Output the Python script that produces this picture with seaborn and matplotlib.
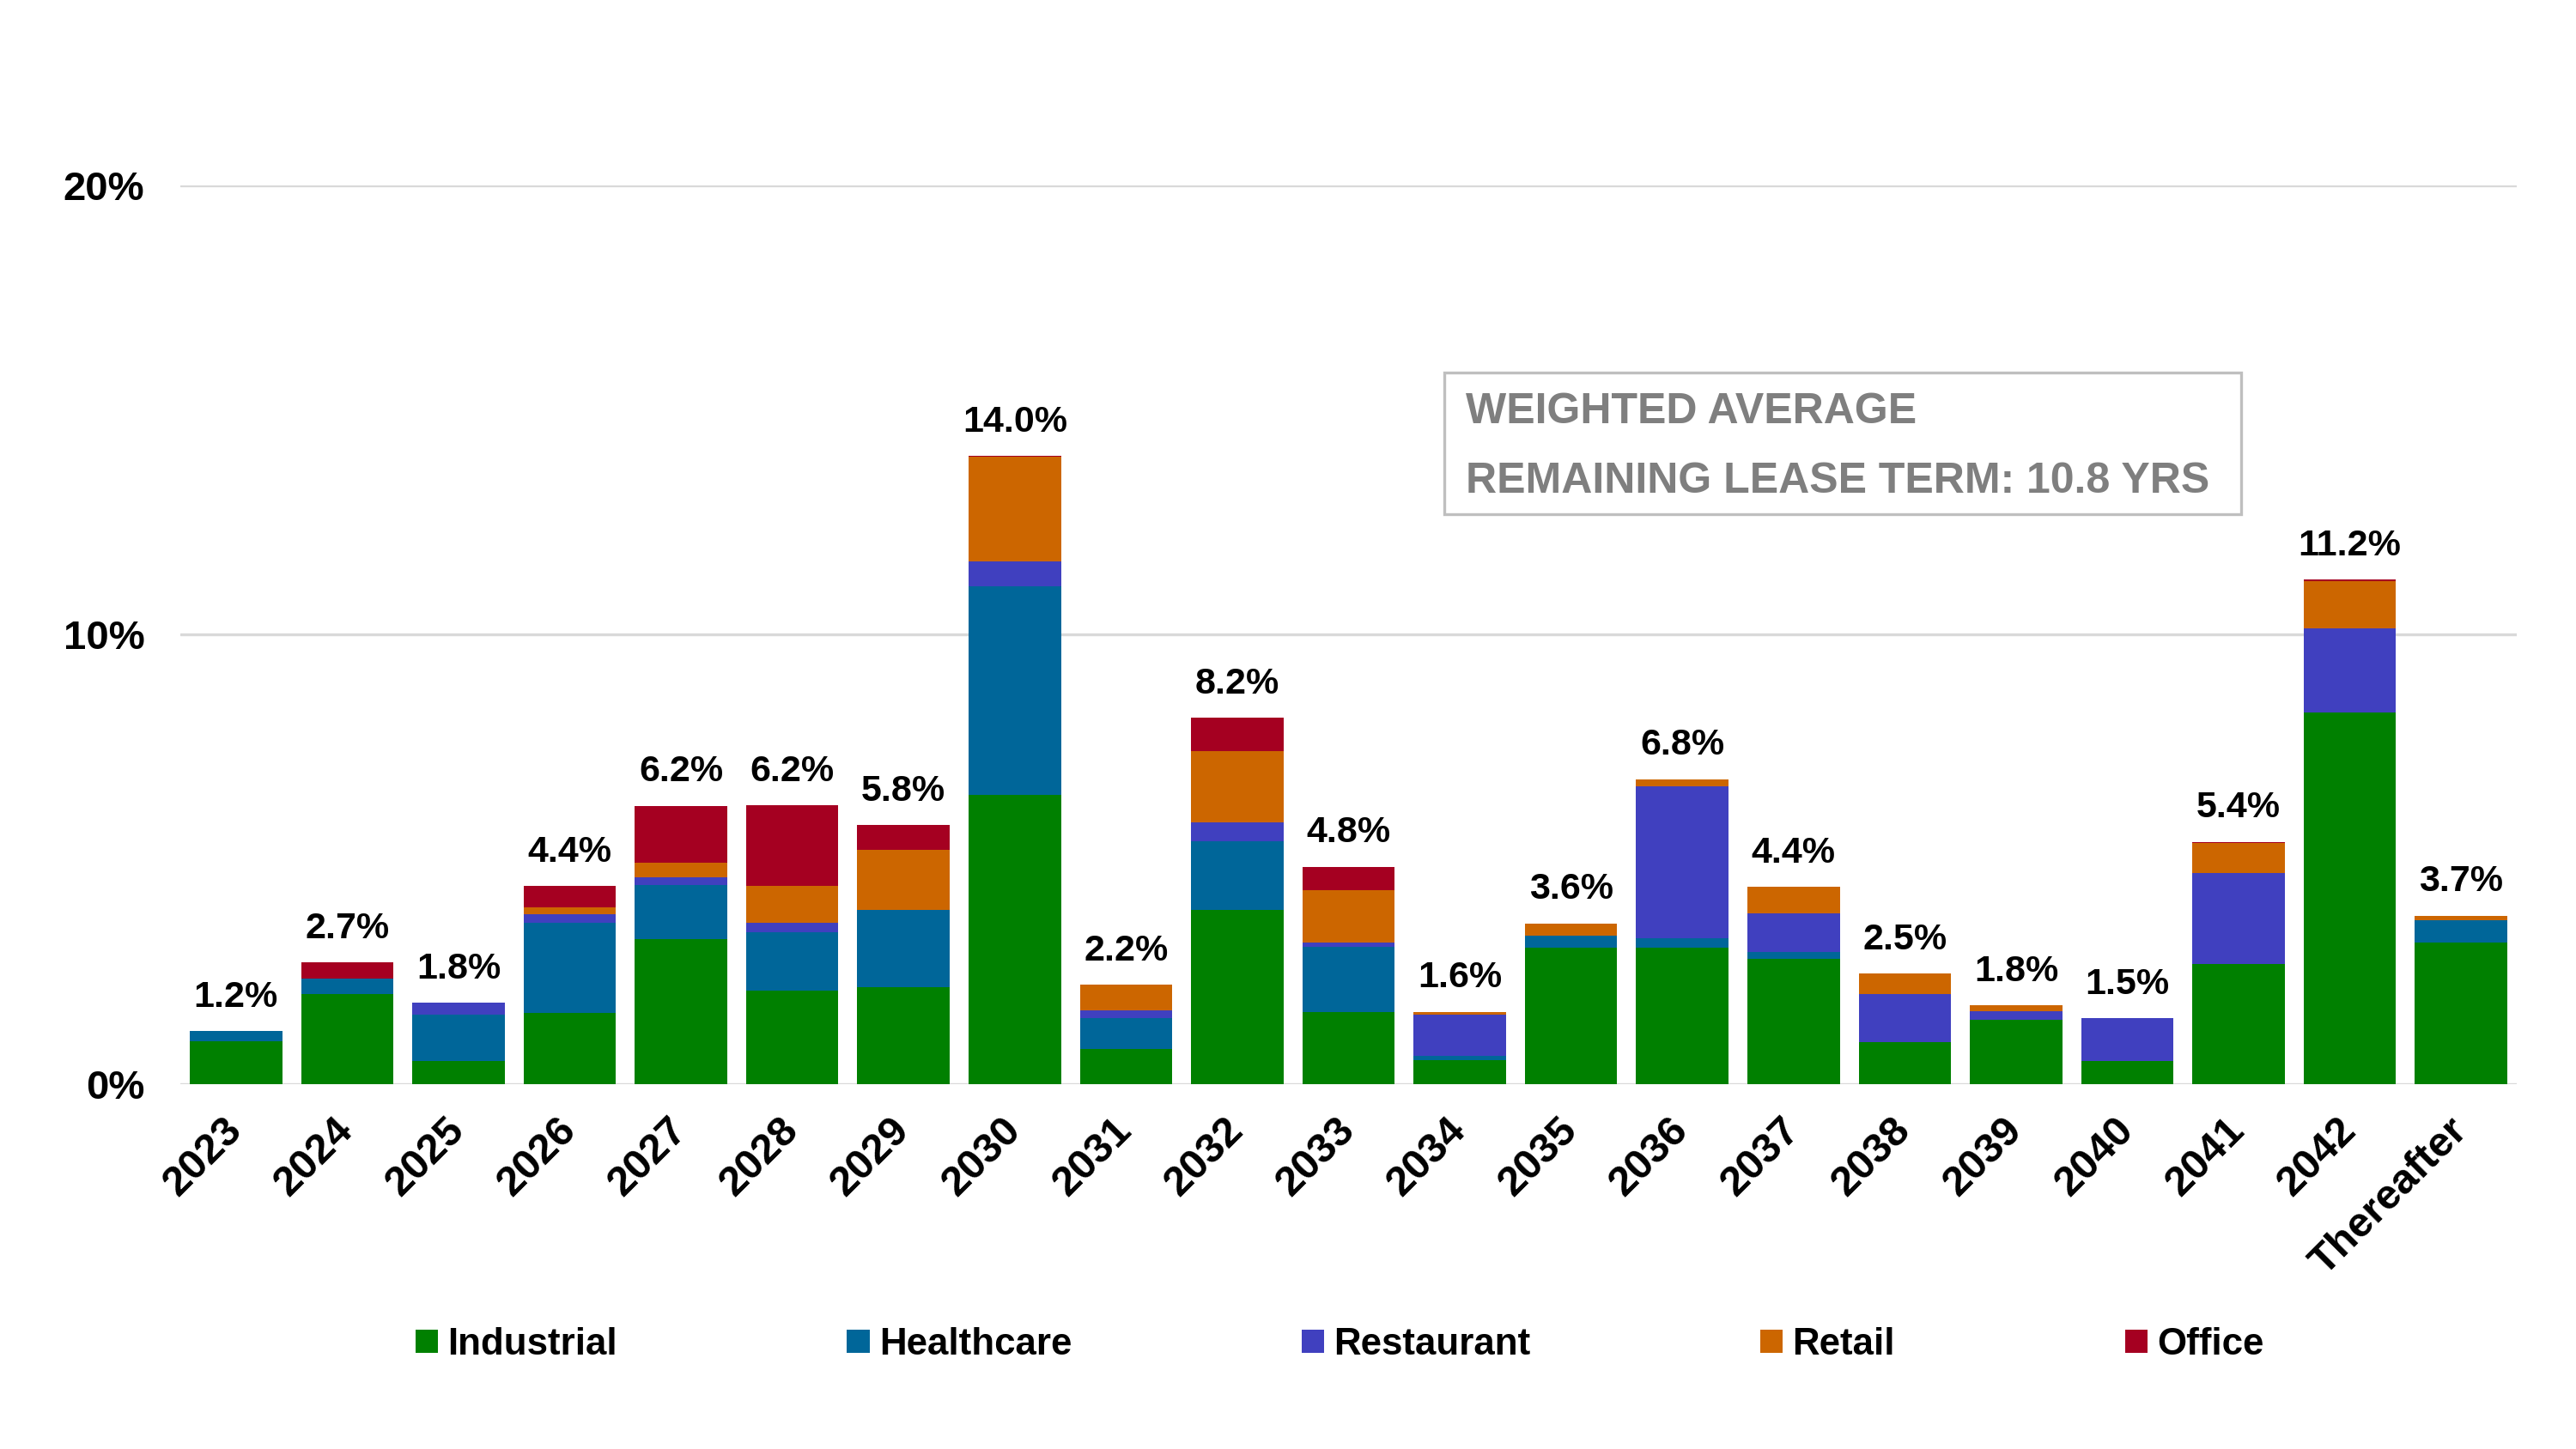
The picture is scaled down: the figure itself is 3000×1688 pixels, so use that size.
import matplotlib
matplotlib.use("Agg")
import matplotlib.pyplot as plt
import seaborn as sns
import numpy as np
from matplotlib.patches import Rectangle

# lease expiration by year, % of portfolio
years = ['2023', '2024', '2025', '2026', '2027', '2028', '2029', '2030', '2031', '2032',
         '2033', '2034', '2035', '2036', '2037', '2038', '2039', '2040', '2041', '2042',
         'Thereafter']
industrial = [0.95, 2.0, 0.5, 1.57, 3.23, 2.08, 2.15, 6.43, 0.77, 3.87, 1.59, 0.52,
              3.03, 3.03, 2.79, 0.92, 1.43, 0.51, 2.66, 8.27, 3.15]
healthcare = [0.22, 0.35, 1.05, 2.02, 1.2, 1.3, 1.72, 4.64, 0.7, 1.53, 1.47, 0.11,
              0.26, 0.21, 0.15, 0.0, 0.0, 0.0, 0.0, 0.0, 0.5]
restaurant = [0.0, 0.0, 0.25, 0.18, 0.16, 0.21, 0.0, 0.56, 0.17, 0.42, 0.09, 0.91,
              0.0, 3.38, 0.85, 1.08, 0.19, 0.95, 2.04, 1.87, 0.0]
retail = [0.0, 0.0, 0.0, 0.15, 0.33, 0.81, 1.34, 2.33, 0.57, 1.59, 1.17, 0.06,
          0.28, 0.16, 0.59, 0.45, 0.13, 0.0, 0.66, 1.05, 0.09]
office = [0.0, 0.35, 0.0, 0.48, 1.27, 1.8, 0.55, 0.02, 0.0, 0.74, 0.51, 0.0,
          0.0, 0.0, 0.0, 0.0, 0.0, 0.0, 0.03, 0.04, 0.0]
totals = [1.2, 2.7, 1.8, 4.4, 6.2, 6.2, 5.8, 14.0, 2.2, 8.2, 4.8, 1.6,
          3.6, 6.8, 4.4, 2.5, 1.8, 1.5, 5.4, 11.2, 3.7]

series = [
    ('Industrial', industrial, '#008000'),
    ('Healthcare', healthcare, '#006699'),
    ('Restaurant', restaurant, '#4040BF'),
    ('Retail', retail, '#CC6600'),
    ('Office', office, '#A50021'),
]

sns.set_theme(style='white')
plt.rcParams['font.family'] = ['Liberation Sans', 'DejaVu Sans']
plt.rcParams['font.weight'] = 'bold'
plt.rcParams['text.color'] = 'black'
plt.rcParams['xtick.color'] = 'black'
plt.rcParams['ytick.color'] = 'black'

fig, ax = plt.subplots(figsize=(15, 8.44), dpi=200)
fig.subplots_adjust(left=0.07, right=0.977, bottom=0.252, top=0.872)

bottom = np.zeros(len(years))
for name, vals, col in series:
    sns.barplot(x=years, y=vals, bottom=bottom, color=col, width=0.83,
                order=years, errorbar=None, label=name, saturation=1,
                linewidth=0, ax=ax, zorder=3)
    bottom = bottom + np.array(vals)

# total labels above the stack
ax.bar_label(ax.containers[-1], labels=[f'{t:.1f}%' for t in totals],
             padding=7, fontsize=15.5, fontweight='bold', color='black')

ax.set_ylim(0, 20)
ax.set_xlim(-0.5, len(years) - 0.5)
ax.set_yticks([0, 10, 20])
ax.set_yticklabels(['0%', '10%', '20%'], fontsize=17, fontweight='bold')
ax.yaxis.grid(True, color='#D9D9D9', linewidth=1.2, zorder=0)
ax.set_axisbelow(True)
for s in ax.spines.values():
    s.set_visible(False)
ax.tick_params(axis='y', length=0, pad=15)
ax.tick_params(axis='x', length=0, pad=17)
plt.setp(ax.get_xticklabels(), rotation=45, ha='right', va='center',
         rotation_mode='anchor', fontsize=17.5, fontweight='bold')
ax.set_xlabel('')
ax.set_ylabel('')

# legend below
handles, labels = ax.get_legend_handles_labels()
if ax.get_legend() is not None:
    ax.get_legend().remove()
fig.legend(handles, labels, loc='center', bbox_to_anchor=(0.52, 0.072), ncol=5,
           frameon=False, handlelength=0.6, handleheight=0.6,
           handletextpad=0.25, columnspacing=6.1, prop={'weight': 'bold', 'size': 15.8})

# weighted average box
fig.add_artist(Rectangle((0.5607, 0.6451), 0.3093, 0.0977, transform=fig.transFigure,
                         facecolor='white', edgecolor='#BFBFBF', linewidth=1.2))
fig.text(0.569, 0.7155, 'WEIGHTED AVERAGE', fontsize=18, fontweight='bold',
         color='#7F7F7F', va='center', ha='left')
fig.text(0.569, 0.6675, 'REMAINING LEASE TERM: 10.8 YRS', fontsize=18, fontweight='bold',
         color='#7F7F7F', va='center', ha='left')

fig.savefig('out.png', dpi=200, facecolor='white')
